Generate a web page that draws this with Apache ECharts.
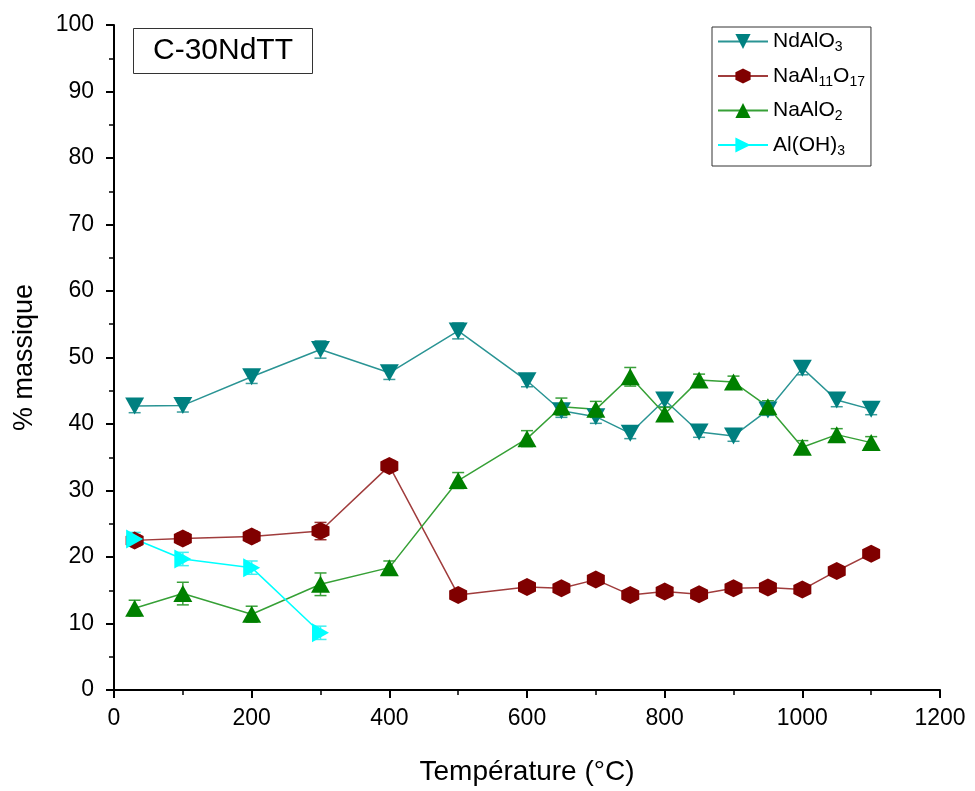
<!DOCTYPE html>
<html><head><meta charset="utf-8">
<script src="https://cdn.jsdelivr.net/npm/echarts@6/dist/echarts.min.js"></script>
<style>html,body{margin:0;padding:0;background:#fff}#c{width:975px;height:791px}</style>
</head><body><div id="c"></div>
<script>
const temps = [30,100,200,300,400,500,600,650,700,750,800,850,900,950,1000,1050,1100];
const ndAlO3 = [42.7,42.8,47.1,51.2,47.7,54.0,46.5,42.0,41.1,38.6,43.6,38.8,38.2,42.1,48.4,43.6,42.2];
const ndAlO3Err = [1.0,1.0,1.0,1.3,1.0,1.2,0.9,1.0,1.0,0.8,1.0,0.8,0.8,0.8,1.0,1.0,0.8];
const naAl11O17 = [22.5,22.8,23.1,23.9,33.7,14.3,15.5,15.3,16.6,14.3,14.8,14.4,15.3,15.4,15.1,17.9,20.5];
const naAl11O17Err = [0.8,0.8,0.8,1.3,0.8,0.6,0.6,0.6,0.6,0.6,0.6,0.6,0.6,0.6,0.6,0.6,0.6];
const naAlO2 = [12.3,14.5,11.4,15.9,18.4,31.5,37.8,42.6,42.2,47.1,41.5,46.6,46.3,42.6,36.5,38.4,37.2];
const naAlO2Err = [1.2,1.7,1.2,1.7,1.0,1.2,1.2,1.3,1.2,1.4,1.0,0.9,0.9,0.9,1.0,0.9,0.9];
const tempsAlOH = [30,100,200,300];
const alOH3 = [22.7,19.7,18.4,8.6];
const alOH3Err = [1.0,1.0,1.0,1.0];
const xTicks = [0,200,400,600,800,1000,1200];
const yTicks = [0,10,20,30,40,50,60,70,80,90,100];

const names = ['NdAlO3','NaAl11O17','NaAlO2','Al(OH)3'];
const richNames = {
  'NdAlO3': '{n|NdAlO}{s|3}',
  'NaAl11O17': '{n|NaAl}{s|11}{n|O}{s|17}',
  'NaAlO2': '{n|NaAlO}{s|2}',
  'Al(OH)3': '{n|Al(OH)}{s|3}'
};
const hexPath = 'path://M0,-1 L0.866,-0.5 L0.866,0.5 L0,1 L-0.866,0.5 L-0.866,-0.5 Z';

function pairs(xs, ys){ return xs.map((x,i)=>[x, ys[i]]); }
function triples(xs, ys, es){ return xs.map((x,i)=>[x, ys[i], es[i]]); }

function errSeries(xs, ys, es, color){
  return {
    type:'custom', silent:true, z:1,
    data: triples(xs, ys, es),
    renderItem: function(params, api){
      const x = api.value(0), y = api.value(1), e = api.value(2);
      const t = api.coord([x, y+e]), b = api.coord([x, y-e]);
      const w = 6;
      const st = {stroke: color, lineWidth: 1.5};
      return {type:'group', children:[
        {type:'line', shape:{x1:t[0],y1:t[1],x2:b[0],y2:b[1]}, style:st},
        {type:'line', shape:{x1:t[0]-w,y1:t[1],x2:t[0]+w,y2:t[1]}, style:st},
        {type:'line', shape:{x1:b[0]-w,y1:b[1],x2:b[0]+w,y2:b[1]}, style:st}
      ]};
    }
  };
}

function lineSeries(name, xs, ys, lineColor, markColor, symbol, rot, size){
  return {
    name: name, type:'line', z:3,
    data: pairs(xs, ys),
    symbol: symbol, symbolRotate: rot, symbolSize: size,
    showAllSymbol: true,
    lineStyle:{color: lineColor, width:1.5},
    itemStyle:{color: markColor, borderWidth:0},
    emphasis:{disabled:true}
  };
}

const chart = echarts.init(document.getElementById('c'));
const font = 'Liberation Sans, Arial, sans-serif';
chart.setOption({
  animation:false,
  textStyle:{fontFamily: font},
  title:{
    text:'C-30NdTT', left:133, top:28,
    padding:[8,20,8,20],
    borderColor:'#333', borderWidth:1,
    textStyle:{fontSize:30, fontWeight:'normal', color:'#000', fontFamily: font}
  },
  legend:{
    orient:'vertical', left:712, top:27,
    padding:[4,6,8,5],
    borderColor:'#333', borderWidth:1,
    itemWidth:50, itemHeight:19, itemGap:11,
    data: names,
    formatter: n => richNames[n],
    textStyle:{
      color:'#000', fontFamily: font,
      rich:{
        n:{fontSize:21, lineHeight:26, color:'#000', fontFamily: font},
        s:{fontSize:14, verticalAlign:'bottom', color:'#000', fontFamily: font}
      }
    }
  },
  grid:{left:114, right:35, top:25, bottom:101},
  xAxis:{
    type:'value', min:0, max:1200, interval:200,
    name:'Température (°C)', nameLocation:'middle', nameGap:68,
    nameTextStyle:{fontSize:28, color:'#000', fontFamily: font},
    axisLine:{show:true, onZero:false, lineStyle:{color:'#000', width:2}},
    axisTick:{show:true, inside:false, length:8, lineStyle:{color:'#000', width:2}},
    minorTick:{show:true, splitNumber:2, length:5, lineStyle:{color:'#000', width:1.5}},
    axisLabel:{fontSize:23, color:'#000', margin:17, fontFamily: font,
      formatter: v => xTicks.includes(v) ? String(v) : ''},
    splitLine:{show:false}
  },
  yAxis:{
    type:'value', min:0, max:100, interval:10,
    name:'% massique', nameLocation:'middle', nameGap:76,
    nameTextStyle:{fontSize:27, color:'#000', fontFamily: font},
    axisLine:{show:true, onZero:false, lineStyle:{color:'#000', width:2}},
    axisTick:{show:true, inside:false, length:8, lineStyle:{color:'#000', width:2}},
    minorTick:{show:true, splitNumber:2, length:5, lineStyle:{color:'#000', width:1.5}},
    axisLabel:{fontSize:23, color:'#000', margin:20, fontFamily: font,
      formatter: v => yTicks.includes(v) ? String(v) : ''},
    splitLine:{show:false}
  },
  series:[
    errSeries(temps, ndAlO3, ndAlO3Err, '#3a9c9c'),
    errSeries(temps, naAl11O17, naAl11O17Err, '#9a3030'),
    errSeries(temps, naAlO2, naAlO2Err, '#3aa03a'),
    errSeries(tempsAlOH, alOH3, alOH3Err, '#40f0f0'),
    lineSeries('NdAlO3', temps, ndAlO3, '#2a9494', '#008080', 'triangle', 180, [19,17]),
    lineSeries('NaAl11O17', temps, naAl11O17, '#a03c3c', '#800000', hexPath, 0, 18),
    lineSeries('NaAlO2', temps, naAlO2, '#36a036', '#008000', 'triangle', 0, [19,17]),
    lineSeries('Al(OH)3', tempsAlOH, alOH3, '#00ffff', '#00ffff', 'triangle', -90, [19,17])
  ]
});
</script>
</body></html>
